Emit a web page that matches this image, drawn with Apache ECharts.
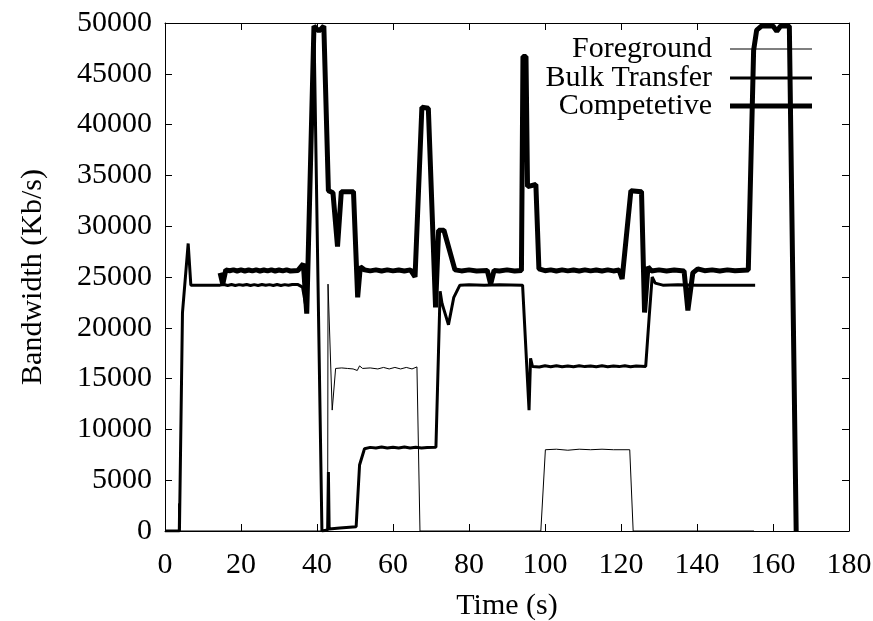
<!DOCTYPE html>
<html>
<head>
<meta charset="utf-8">
<script src="https://cdn.jsdelivr.net/npm/echarts@6/dist/echarts.min.js"></script>
<style>
html,body{margin:0;padding:0;background:#fff;overflow:hidden;}
#chart{width:873px;height:621px;}
</style>
</head>
<body>
<div id="chart"></div>
<script>
// ---- data (time in s, bandwidth in Kb/s) ----
const xTicks = [0, 20, 40, 60, 80, 100, 120, 140, 160, 180];
const yTicks = [0, 5000, 10000, 15000, 20000, 25000, 30000, 35000, 40000, 45000, 50000];
const seriesNames = ['Foreground', 'Bulk Transfer', 'Competetive'];

const foreground = [
  [0, 0], [3.5, 0], [3.6, 2700], [3.7, 0], [42.8, 0], [42.9, 24300], [44.0, 11900],
  [44.9, 16000], [46.5, 16050], [48, 16000], [49.5, 15950], [50.6, 15800], [51.2, 16250],
  [52, 16000], [54, 16050], [56, 15950], [57.5, 16100], [59, 15950], [60.5, 16100],
  [62, 15950], [63.5, 16100], [65, 15950], [66.3, 16150], [66.8, 16000], [67.1, 0],
  [98.9, 0], [100.1, 8000], [103, 8050], [106, 7950], [109, 8050], [112, 8000],
  [115, 8050], [118, 8000], [122.3, 8000], [123.2, 0], [155, 0]
];

const bulkTransfer = [
  [0, 0], [3.8, 0], [4.6, 21500], [6.1, 28300], [6.8, 24200], [10, 24200], [14.5, 24200],
  [15.5, 24260], [16.5, 24170], [17.5, 24260], [18.5, 24170], [19.5, 24250], [20.5, 24180],
  [21.5, 24260], [22.5, 24170], [23.5, 24250], [24.5, 24170], [25.5, 24260], [26.5, 24180],
  [27.5, 24250], [28.5, 24170], [29.5, 24260], [30.5, 24170], [31.5, 24250], [32.5, 24180],
  [33.5, 24260], [35, 24250], [36.2, 24000], [37.3, 21600], [39.2, 49700], [41.3, 0],
  [42.8, 100], [43.0, 5800], [43.2, 200], [46, 300], [50.3, 420], [51.2, 6500],
  [52.5, 8100], [54, 8230], [55.5, 8170], [57, 8260], [58.5, 8170], [60, 8250],
  [61.5, 8170], [63, 8260], [64.5, 8170], [66, 8250], [67.5, 8180], [69, 8230],
  [71.3, 8250], [72.4, 23600], [72.9, 22400], [74.6, 20300], [76, 23000], [77.6, 24200],
  [80, 24230], [84, 24200], [88, 24230], [94.1, 24200], [95.8, 11900], [96.2, 17000],
  [96.7, 16200], [98.5, 16150], [100, 16260], [101.5, 16170], [103, 16260], [104.5, 16170],
  [106, 16250], [107.5, 16170], [109, 16260], [110.5, 16180], [112, 16250], [113.5, 16170],
  [115, 16260], [116.5, 16170], [118, 16250], [119.5, 16180], [121, 16260], [122.5, 16170],
  [124, 16250], [126.5, 16200], [127.4, 21000], [128.2, 25000], [129, 24400], [131, 24200],
  [135, 24230], [140, 24200], [145, 24200], [150, 24200], [155.3, 24200]
];

const competetive = [
  [14.5, 25400], [15.2, 24300], [16.0, 25700], [17, 25620], [18, 25700], [19, 25590],
  [20, 25700], [21, 25590], [22, 25690], [23, 25600], [24, 25700], [25, 25590],
  [26, 25690], [27, 25600], [28, 25700], [29, 25590], [30, 25690], [31, 25600],
  [32, 25700], [33, 25590], [35, 25650], [36.4, 26300], [37.3, 21400], [39.2, 49700],
  [40.5, 49200], [41.8, 49700], [43.0, 33500], [44.2, 33300], [45.4, 28000], [46.4, 33400],
  [49.6, 33400], [50.7, 23000], [51.4, 26000], [52.5, 25700], [54, 25600], [55.5, 25700],
  [57, 25590], [58.5, 25700], [60, 25600], [61.5, 25690], [63, 25590], [64.6, 25700],
  [65.8, 25000], [67.6, 41700], [69.3, 41600], [71.2, 22000], [72.0, 29600], [73.4, 29600],
  [76.3, 25700], [78, 25600], [80, 25700], [82, 25590], [84.8, 25650], [85.7, 24300],
  [86.6, 25650], [88, 25600], [90, 25700], [92, 25590], [93.8, 25650], [94.2, 46700],
  [95.0, 46700], [95.4, 33900], [97.6, 34100], [98.4, 25800], [100, 25620], [101.5, 25700],
  [103, 25590], [104.5, 25700], [106, 25600], [107.5, 25690], [109, 25590], [110.5, 25700],
  [112, 25600], [113.5, 25690], [115, 25590], [116.5, 25700], [118, 25600], [119.5, 25680],
  [120.3, 24800], [122.6, 33500], [125.4, 33400], [126.2, 21500], [127.1, 26000],
  [128, 25600], [130, 25700], [132, 25600], [134, 25690], [136.6, 25600], [137.6, 21700],
  [138.9, 25400], [140.2, 25800], [142, 25620], [144, 25700], [146, 25600], [148, 25700],
  [150, 25620], [153.5, 25700], [154.9, 47300], [155.7, 49300], [157, 49700], [160, 49700],
  [161, 49200], [162, 49700], [164.3, 49700], [166.1, 0]
];

const FONT = 'Liberation Serif';
const FS = 30;

const chart = echarts.init(document.getElementById('chart'), null, {renderer: 'canvas'});

const tickCommon = {show: true, inside: true, length: 7, lineStyle: {color: '#000', width: 1}};
const lineCommon = {show: true, onZero: false, lineStyle: {color: '#000', width: 1}};

function legendFor(name, h, top) {
  return {
    data: [name],
    icon: 'rect',
    itemWidth: 82,
    itemHeight: h,
    align: 'right',
    right: 61,
    top: top,
    selectedMode: false,
    padding: 0,
    textStyle: {fontFamily: FONT, fontSize: FS, color: '#000', padding: [0, 13, 0, 0], lineHeight: 28}
  };
}

chart.setOption({
  animation: false,
  backgroundColor: '#fff',
  grid: {left: 165, right: 24, top: 23, bottom: 90, containLabel: false, outerBoundsMode: 'none'},
  legend: [
    legendFor(seriesNames[0], 1, 34),
    legendFor(seriesNames[1], 3, 63),
    legendFor(seriesNames[2], 5, 91)
  ],
  xAxis: [{
    type: 'value', min: xTicks[0], max: xTicks[xTicks.length - 1], interval: xTicks[1] - xTicks[0],
    name: 'Time (s)', nameLocation: 'middle', nameGap: 60,
    nameTextStyle: {fontFamily: FONT, fontSize: FS, color: '#000'},
    axisLine: lineCommon, axisTick: tickCommon,
    axisLabel: {fontFamily: FONT, fontSize: FS, color: '#000', margin: 19},
    splitLine: {show: false}
  }, {
    type: 'value', position: 'top', min: xTicks[0], max: xTicks[xTicks.length - 1], interval: xTicks[1] - xTicks[0],
    axisLine: lineCommon, axisTick: tickCommon, axisLabel: {show: false}, splitLine: {show: false}
  }],
  yAxis: [{
    type: 'value', min: yTicks[0], max: yTicks[yTicks.length - 1], interval: yTicks[1] - yTicks[0],
    name: 'Bandwidth (Kb/s)', nameLocation: 'middle', nameGap: 117,
    nameTextStyle: {fontFamily: FONT, fontSize: FS, color: '#000'},
    axisLine: lineCommon, axisTick: tickCommon,
    axisLabel: {fontFamily: FONT, fontSize: FS, color: '#000', margin: 13, formatter: function (v) { return String(v); }},
    splitLine: {show: false}
  }, {
    type: 'value', position: 'right', min: yTicks[0], max: yTicks[yTicks.length - 1], interval: yTicks[1] - yTicks[0],
    axisLine: lineCommon, axisTick: tickCommon, axisLabel: {show: false}, splitLine: {show: false}
  }],
  series: [
    {name: seriesNames[0], type: 'line', data: foreground, symbol: 'none', showSymbol: false, clip: true,
     color: '#000', lineStyle: {color: '#000', width: 1}, z: 4},
    {name: seriesNames[1], type: 'line', data: bulkTransfer, symbol: 'none', showSymbol: false, clip: true,
     color: '#000', lineStyle: {color: '#000', width: 3}, z: 3},
    {name: seriesNames[2], type: 'line', data: competetive, symbol: 'none', showSymbol: false, clip: true,
     color: '#000', lineStyle: {color: '#000', width: 5}, z: 2}
  ]
});
</script>
</body>
</html>
